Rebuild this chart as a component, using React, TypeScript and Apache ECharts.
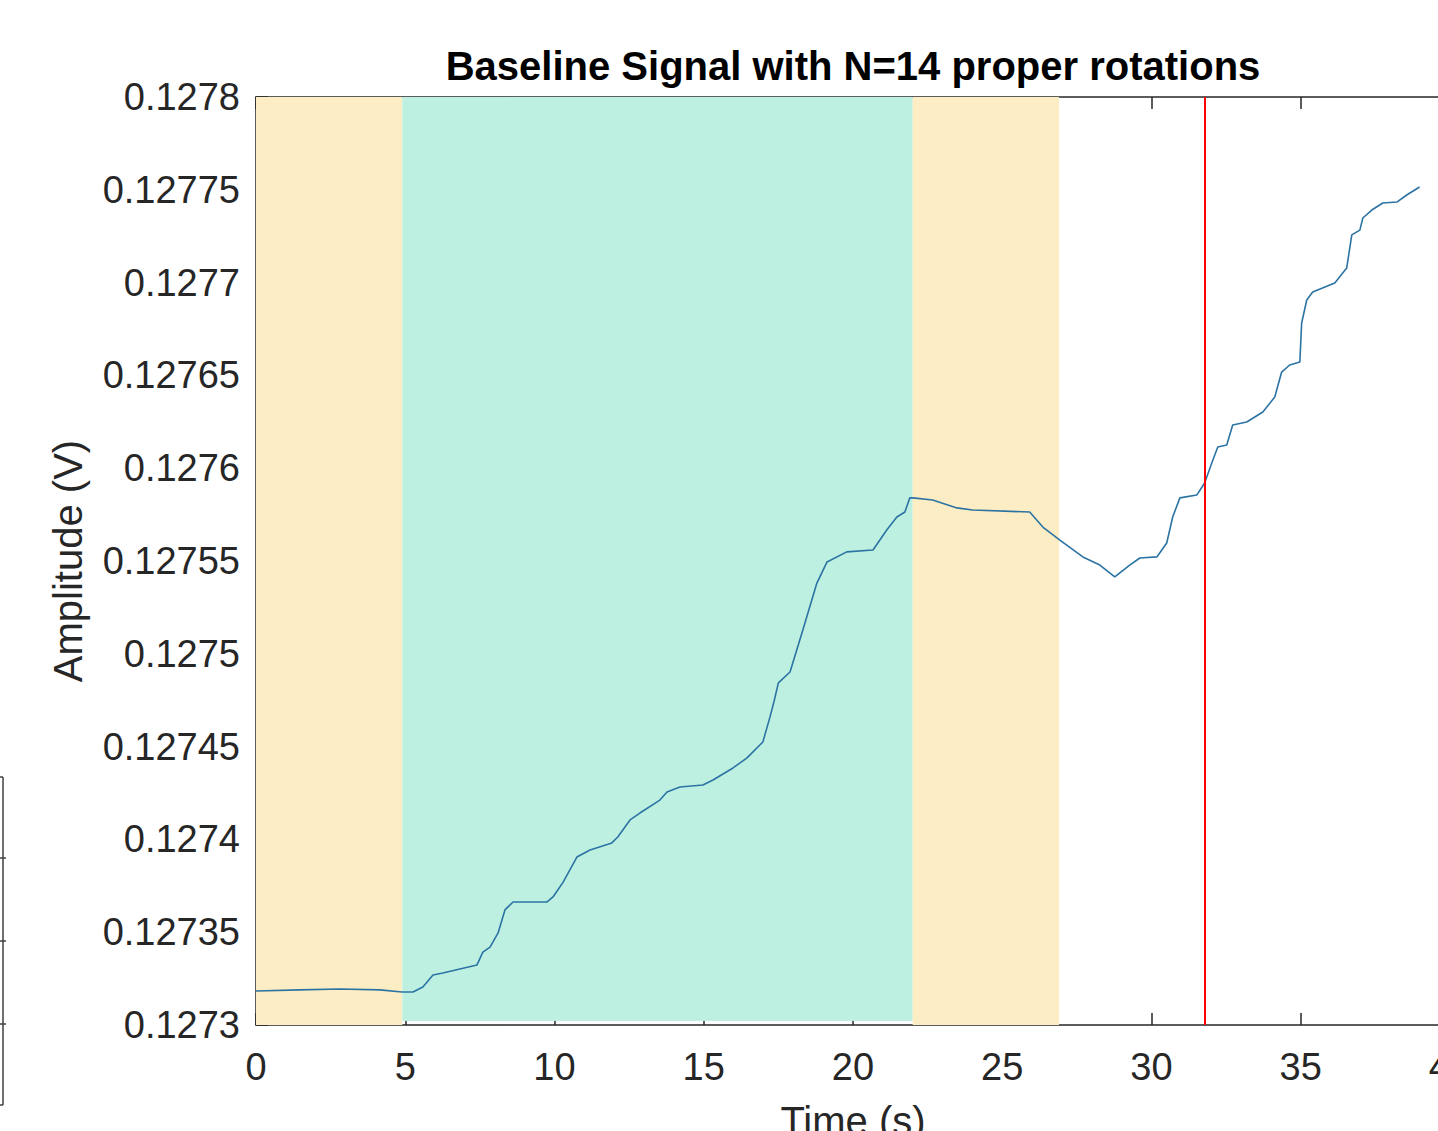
import React, { useEffect, useRef } from "react";
import * as echarts from "echarts";

// Time (s) and amplitude (V)
const timeS = [
  0, 1.47, 2.81, 4.15, 4.89, 5.26, 5.59, 5.93, 6.26, 7.4, 7.45, 7.6, 7.84, 8.11, 8.34, 8.61,
  9.75, 9.95, 10.29, 10.75, 11.19, 11.92, 12.12, 12.53, 12.86, 13.53, 13.77, 14.2, 14.97,
  15.31, 15.98, 16.45, 16.98, 17.22, 17.35, 17.5, 17.89, 18.32, 18.79, 19.13, 19.79, 20.67,
  21.13, 21.47, 21.74, 21.9, 22.01, 22.67, 23.48, 24.01, 25.92, 26.36, 26.93, 27.7, 28.27,
  28.77, 29.27, 29.61, 30.18, 30.51, 30.71, 30.95, 31.52, 31.78, 32.02, 32.22, 32.52, 32.72,
  33.19, 33.73, 34.13, 34.36, 34.63, 34.97, 35.03, 35.2, 35.4, 36.14, 36.54, 36.71, 36.98,
  37.08, 37.38, 37.75, 38.22, 38.55, 38.98,
];
const amplitudeV = [
  0.1273183, 0.1273189, 0.1273194, 0.1273189, 0.1273178, 0.1273178, 0.1273205, 0.1273269,
  0.127328, 0.1273323, 0.127334, 0.1273393, 0.127342, 0.1273496, 0.127362, 0.1273663,
  0.1273663, 0.127369, 0.127377, 0.1273905, 0.1273943, 0.1273981, 0.1274013, 0.1274105,
  0.1274142, 0.1274212, 0.1274255, 0.1274282, 0.1274293, 0.127432, 0.1274385, 0.1274439,
  0.1274525, 0.127466, 0.127474, 0.1274843, 0.1274902, 0.1275128, 0.1275381, 0.1275495,
  0.1275549, 0.1275559, 0.1275667, 0.1275737, 0.1275764, 0.127584, 0.127584, 0.1275829,
  0.1275786, 0.1275775, 0.1275764, 0.1275683, 0.1275613, 0.1275522, 0.1275478, 0.1275414,
  0.1275478, 0.1275516, 0.1275522, 0.1275597, 0.1275737, 0.127584, 0.1275856, 0.127592,
  0.1276028, 0.1276114, 0.1276125, 0.1276233, 0.1276249, 0.1276303, 0.1276384, 0.1276518,
  0.1276556, 0.1276572, 0.1276782, 0.1276906, 0.1276949, 0.1276998, 0.1277079, 0.1277257,
  0.1277283, 0.1277348, 0.1277391, 0.1277429, 0.1277434, 0.1277472, 0.1277515,
];

// Shaded phases (s)
const phaseStart = [0, 4.9, 22.0];
const phaseEnd = [4.9, 22.0, 26.9];
const phaseKind = ["rest", "rotation", "rest"];
// Red marker (s)
const markerTime = [31.8];

// Axis settings
const xMin = 0;
const xMax = 40;
const xStep = 5;
const yMin = 0.1273;
const yMax = 0.1278;
const yStep = 0.00005;

const titleText = "Baseline Signal with N=14 proper rotations";
const xName = "Time (s)";
const yName = "Amplitude (V)";

const CHART_W = 1460;
const CHART_H = 1131;

export default function App() {
  const ref = useRef<HTMLDivElement>(null);

  useEffect(() => {
    if (!ref.current) return;
    const chart = echarts.init(ref.current, undefined, {
      renderer: "svg",
      width: CHART_W,
      height: CHART_H,
    });
    const font = "Liberation Sans, Arial, Helvetica, sans-serif";
    const ink = "#262626";
    const kindColor: Record<string, string> = { rest: "#FDEDC4", rotation: "#BEF0E2" };

    const axisCommon = {
      axisLine: { show: true, onZero: false, lineStyle: { color: ink, width: 1.5 } },
      axisTick: { show: true, inside: true, length: 12, lineStyle: { color: ink, width: 1.5 } },
      splitLine: { show: false },
    };

    const yFmt = (v: number) => parseFloat(v.toFixed(6)).toString();

    chart.setOption({
      animation: false,
      backgroundColor: "#ffffff",
      grid: {
        left: 256,
        top: 97,
        right: 10,
        bottom: 106,
        containLabel: false,
        outerBoundsMode: "none",
      },
      xAxis: [
        {
          type: "value",
          min: xMin,
          max: xMax,
          interval: xStep,
          position: "bottom",
          ...axisCommon,
          axisLabel: { show: true, color: ink, fontSize: 38, fontFamily: font, margin: 23 },
          name: xName,
          nameLocation: "middle",
          nameGap: 76,
          nameTextStyle: { color: ink, fontSize: 40, fontFamily: font },
        },
        {
          type: "value",
          min: xMin,
          max: xMax,
          interval: xStep,
          position: "top",
          ...axisCommon,
          axisLabel: { show: false },
        },
      ],
      yAxis: [
        {
          type: "value",
          min: yMin,
          max: yMax,
          interval: yStep,
          position: "left",
          ...axisCommon,
          axisLabel: {
            show: true,
            color: ink,
            fontSize: 38,
            fontFamily: font,
            margin: 16,
            formatter: yFmt,
          },
          name: yName,
          nameLocation: "middle",
          nameRotate: 90,
          nameGap: 168,
          nameTextStyle: { color: ink, fontSize: 40, fontFamily: font },
        },
        {
          type: "value",
          min: yMin,
          max: yMax,
          interval: yStep,
          position: "right",
          ...axisCommon,
          axisLabel: { show: false },
        },
      ],
      series: [
        {
          type: "line",
          name: "phases",
          data: [],
          z: 1,
          silent: true,
          markArea: {
            silent: true,
            label: { show: false },
            data: phaseStart.map((s, i) => [
              {
                xAxis: s,
                yAxis: phaseKind[i] === "rotation" ? yMin + 0.0000022 : yMin,
                itemStyle: { color: kindColor[phaseKind[i]], opacity: 1 },
              },
              { xAxis: phaseEnd[i], yAxis: yMax },
            ]),
          },
        },
        {
          type: "line",
          name: "marker",
          data: [],
          z: 3,
          silent: true,
          markLine: {
            silent: true,
            symbol: "none",
            label: { show: false },
            lineStyle: { color: "#FF0000", width: 2, type: "solid" },
            data: markerTime.map((t) => ({ xAxis: t })),
          },
        },
        {
          type: "line",
          name: "signal",
          z: 4,
          showSymbol: false,
          symbol: "none",
          data: timeS.map((t, i) => [t, amplitudeV[i]]),
          lineStyle: { color: "#2B73A3", width: 1.6 },
        },
      ],
      graphic: [
        {
          type: "text",
          x: 853,
          y: 66,
          style: {
            text: titleText,
            font: `bold 40px ${font}`,
            fill: "#000000",
            textAlign: "center",
            textVerticalAlign: "middle",
          },
        },
        // neighbouring panel's edge visible at the left border
        { type: "line", shape: { x1: 3, y1: 777, x2: 3, y2: 1105 }, style: { stroke: "#404040", lineWidth: 1.5 } },
        { type: "line", shape: { x1: 0, y1: 777, x2: 3, y2: 777 }, style: { stroke: "#404040", lineWidth: 1.5 } },
        { type: "line", shape: { x1: 0, y1: 1105, x2: 3, y2: 1105 }, style: { stroke: "#404040", lineWidth: 1.5 } },
        { type: "line", shape: { x1: 0, y1: 858, x2: 6, y2: 858 }, style: { stroke: "#404040", lineWidth: 1.5 } },
        { type: "line", shape: { x1: 0, y1: 941, x2: 6, y2: 941 }, style: { stroke: "#404040", lineWidth: 1.5 } },
        { type: "line", shape: { x1: 0, y1: 1024, x2: 6, y2: 1024 }, style: { stroke: "#404040", lineWidth: 1.5 } },
      ],
    });

    return () => chart.dispose();
  }, []);

  return (
    <div
      style={{
        position: "fixed",
        left: 0,
        top: 0,
        width: 1438,
        height: 1131,
        overflow: "hidden",
        background: "#ffffff",
      }}
    >
      <div ref={ref} style={{ width: CHART_W, height: CHART_H }} />
    </div>
  );
}
